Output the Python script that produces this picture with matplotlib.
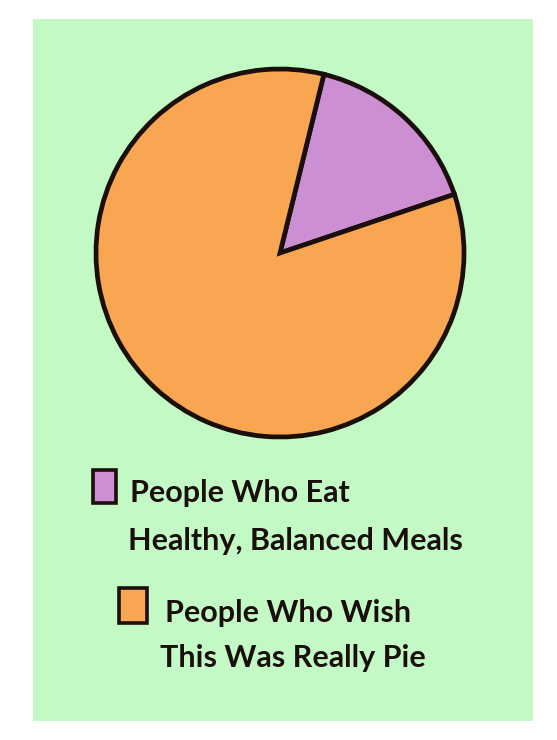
import matplotlib
matplotlib.use("Agg")
import matplotlib.pyplot as plt
from matplotlib.patches import Rectangle

# data
labels = ["People Who Eat\nHealthy, Balanced Meals",
          "People Who Wish\nThis Was Really Pie"]
shares = [16, 84]
slice_colors = ["#cc8fd3", "#f9a652"]
start_angle = 18.6

W, H = 557, 740
bg_green = "#c3f9c5"
ink = "#1a0f0a"

plt.rcParams['font.family'] = ['Lato', 'DejaVu Sans']

fig = plt.figure(figsize=(W / 100, H / 100), dpi=100, facecolor="white")


def fx(x):
    return x / W


def fy(y):
    return 1 - y / H


# green card behind everything
fig.patches.append(Rectangle((fx(33), fy(721)), (533 - 33) / W, (721 - 19) / H,
                             transform=fig.transFigure, facecolor=bg_green,
                             edgecolor="none", zorder=-5))

# pie
cx, cy, r = 280, 253, 184
ax = fig.add_axes([fx(cx - r), fy(cy + r), 2 * r / W, 2 * r / H])
ax.set_facecolor("none")
ax.set_zorder(3)
wedges, _ = ax.pie(shares, colors=slice_colors, startangle=start_angle,
                   counterclock=True,
                   wedgeprops=dict(edgecolor=ink, linewidth=3.4, clip_on=False))
ax.set_xlim(-1, 1)
ax.set_ylim(-1, 1)
ax.set_aspect("equal")
ax.axis("off")

# hand-made legend: swatch at first line, label to the right
boxes = [(93, 470, 23, 33), (119, 588, 28, 35)]
text_x = [[130, 128], [165, 160]]
baselines = [[502, 550], [622, 667]]
for i, lab in enumerate(labels):
    bx, by, bw, bh = boxes[i]
    fig.patches.append(Rectangle((fx(bx), fy(by + bh)), bw / W, bh / H,
                                 transform=fig.transFigure,
                                 facecolor=wedges[i].get_facecolor(),
                                 edgecolor=ink, linewidth=2.6, zorder=2))
    for j, line in enumerate(lab.split("\n")):
        fig.text(fx(text_x[i][j]), fy(baselines[i][j]), line, fontsize=22,
                 fontweight="bold", color=ink, ha="left", va="baseline")

fig.savefig("out.png", dpi=100, facecolor="white")
